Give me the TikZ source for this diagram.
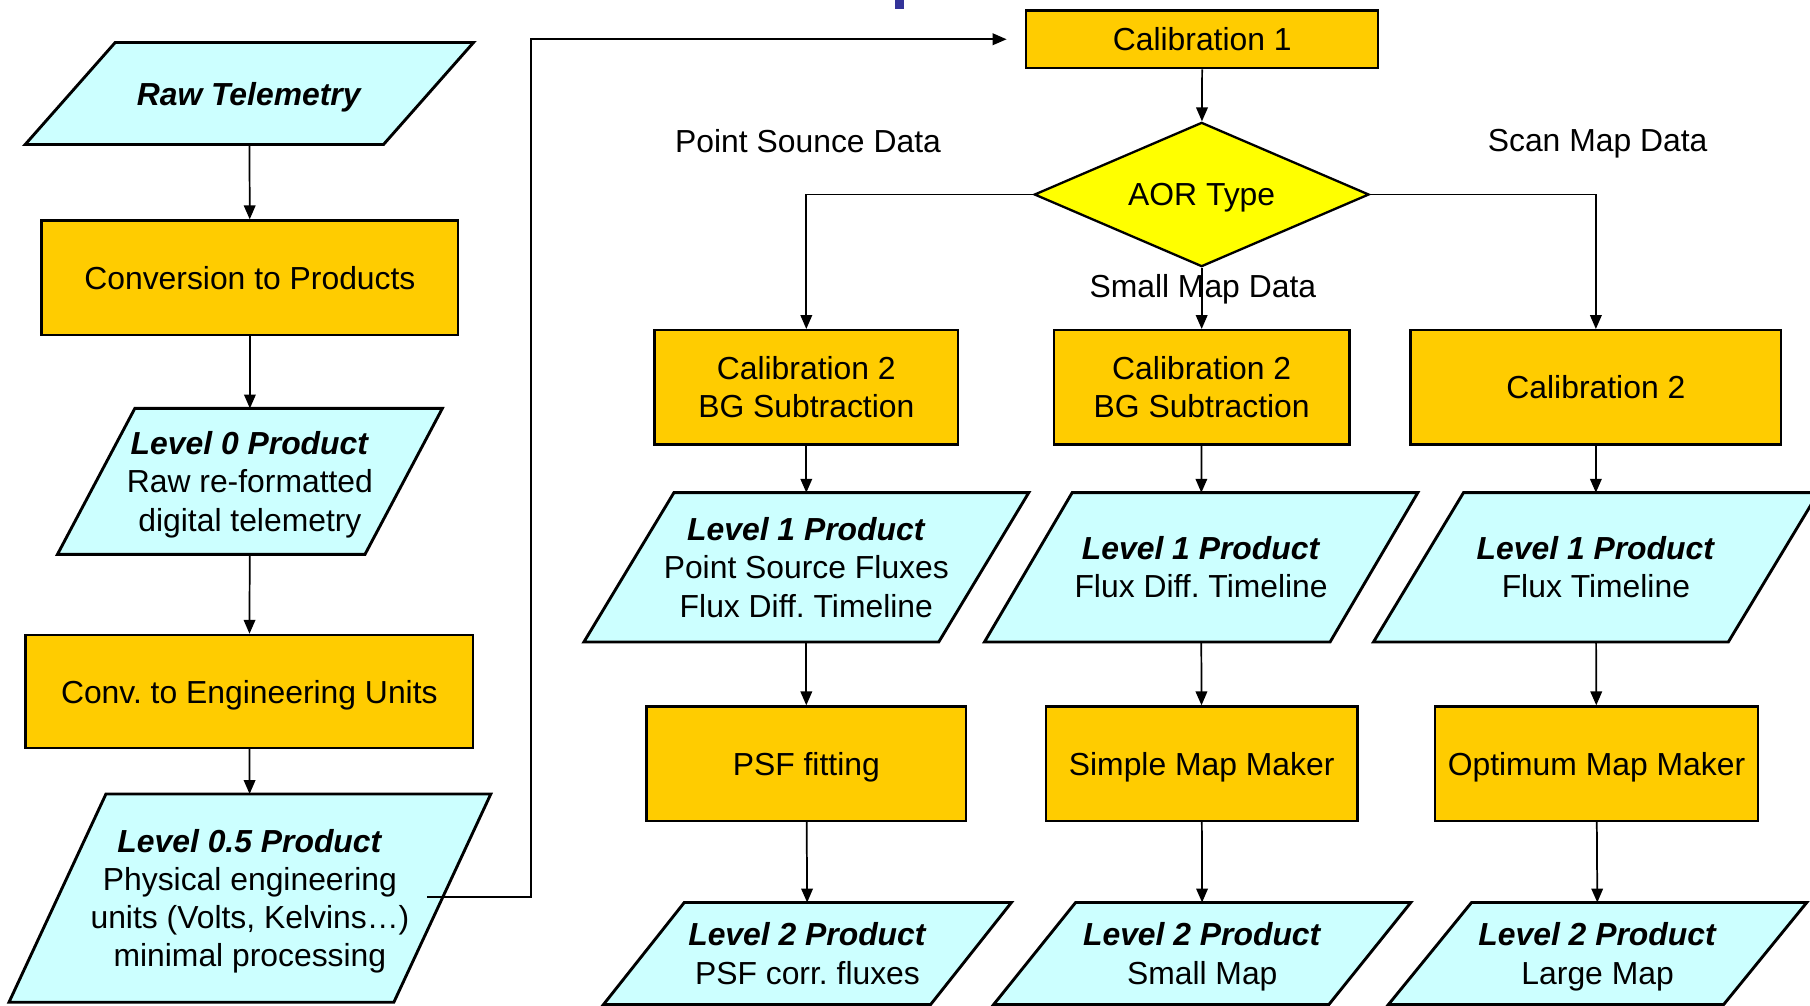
\documentclass[tikz,border=0pt]{standalone}
\usepackage{fontspec}
\setmainfont{Liberation Sans}
\usetikzlibrary{shapes.geometric,arrows.meta,backgrounds}
\definecolor{procorange}{HTML}{FFCC00}
\definecolor{datacyan}{HTML}{CCFFFF}
\definecolor{aoryellow}{HTML}{FFFF00}
\definecolor{titleblue}{HTML}{333399}

\begin{document}
\begin{tikzpicture}[x=1pt,y=-1pt]
  \tikzstyle{every node} = [font=\fontsize{27.6}{33}\selectfont\frenchspacing, text depth=0pt]
  \tikzstyle{block} = [rectangle, draw, fill=procorange, line width=2pt, inner sep=0pt, align=center, text depth=-4pt]
  \tikzstyle{product} = [rectangle, inner sep=0pt, align=center, text depth=-4pt]
  \tikzstyle{productshape} = [draw, fill=datacyan, line width=2.5pt]
  \tikzstyle{decision} = [diamond, aspect=2.32, draw, fill=aoryellow, line width=2pt, inner sep=0pt, minimum width=290pt, minimum height=125pt]
  \tikzstyle{arrow} = [-{Triangle[length=12pt, width=10pt]}, line width=1.5pt]

  \useasboundingbox (0,0) rectangle (1568,871);
  \fill[titleblue] (775,0) rectangle (783,8);

  % left column
  \node [product, minimum width=310pt, minimum height=88pt] (raw) at (216,81) {\textbf{\textit{Raw Telemetry}}};
  \node [block, minimum width=361pt, minimum height=99pt, text depth=0pt] (convprod) at (216.5,240.5) {Conversion to Products};
  \node [product, minimum width=266pt, minimum height=126pt] (lvl0) at (216.5,417) {\textbf{\textit{Level 0 Product}}\\Raw re-formatted\\digital telemetry};
  \node [block, minimum width=388pt, minimum height=98pt, text depth=0pt] (conveng) at (216,599) {Conv. to Engineering Units};
  \node [product, minimum width=333pt, minimum height=180pt] (lvl05) at (216.5,778) {\textbf{\textit{Level 0.5 Product}}\\Physical engineering\\units (Volts, Kelvins…)\\minimal processing};

  % calibration and branch
  \node [block, minimum width=305pt, minimum height=50pt, text depth=0pt] (cal1) at (1041.5,34) {Calibration 1};
  \node [decision] (aor) at (1041,168.5) {AOR Type};
  \node (psdata) at (700,122) {Point Sounce Data};
  \node (smdata) at (1042,248) {Small Map Data};
  \node (scdata) at (1384,122) {Scan Map Data};

  \node [block, minimum width=263pt, minimum height=99pt] (cal2a) at (698.5,335.5) {Calibration 2\\BG Subtraction};
  \node [block, minimum width=256pt, minimum height=99pt] (cal2b) at (1041,335.5) {Calibration 2\\BG Subtraction};
  \node [block, minimum width=321pt, minimum height=99pt] (cal2c) at (1382.5,335.5) {Calibration 2};

  \node [product, minimum width=307pt, minimum height=129pt] (lvl1a) at (698.5,491.5) {\textbf{\textit{Level 1 Product}}\\Point Source Fluxes\\Flux Diff. Timeline};
  \node [product, minimum width=299pt, minimum height=129pt] (lvl1b) at (1040.5,491.5) {\textbf{\textit{Level 1 Product}}\\Flux Diff. Timeline};
  \node [product, minimum width=307pt, minimum height=129pt] (lvl1c) at (1382.5,491.5) {\textbf{\textit{Level 1 Product}}\\Flux Timeline};

  \node [block, minimum width=277pt, minimum height=99pt] (psf) at (698.5,661.5) {PSF fitting};
  \node [block, minimum width=270pt, minimum height=99pt] (simple) at (1041,661.5) {Simple Map Maker};
  \node [block, minimum width=280pt, minimum height=99pt] (optimum) at (1383,661.5) {Optimum Map Maker};

  \node [product, minimum width=283pt, minimum height=88pt] (lvl2a) at (699.5,826) {\textbf{\textit{Level 2 Product}}\\PSF corr. fluxes};
  \node [product, minimum width=290pt, minimum height=88pt] (lvl2b) at (1041.5,826) {\textbf{\textit{Level 2 Product}}\\Small Map};
  \node [product, minimum width=290pt, minimum height=88pt] (lvl2c) at (1384,826) {\textbf{\textit{Level 2 Product}}\\Large Map};

  % slanted outlines of the data products
  \begin{scope}[on background layer]
    \foreach \n/\s in {raw/39, lvl0/33.5, lvl05/42, lvl1a/39, lvl1b/38, lvl1c/39, lvl2a/35, lvl2b/35.5, lvl2c/36}
      \draw[productshape] ([xshift=\s pt]\n.north west) -- ([xshift=\s pt]\n.north east) -- ([xshift=-\s pt]\n.south east) -- ([xshift=-\s pt]\n.south west) -- cycle;
  \end{scope}

  \coordinate (l05out) at (370,777);
  \coordinate (l05bend) at (460,777);

  \draw[arrow] (raw) to (convprod);
  \draw[arrow] (convprod) to (lvl0);
  \draw[arrow] (lvl0) to (conveng);
  \draw[arrow] (conveng) to (lvl05);
  \draw[arrow, shorten >=16pt] (l05out) -- (l05bend) |- (cal1.west);
  \draw[arrow] (cal1) to (aor);
  \draw[arrow] (aor.west) -| (cal2a.north);
  \draw[arrow] (aor.south) to (cal2b.north);
  \draw[arrow] (aor.east) -| (cal2c.north);
  \draw[arrow] (cal2a) to (lvl1a);
  \draw[arrow] (cal2b) to (lvl1b);
  \draw[arrow] (cal2c) to (lvl1c);
  \draw[arrow] (lvl1a) to (psf);
  \draw[arrow] (lvl1b) to (simple);
  \draw[arrow] (lvl1c) to (optimum);
  \draw[arrow] (psf) to (lvl2a);
  \draw[arrow] (simple) to (lvl2b);
  \draw[arrow] (optimum) to (lvl2c);
\end{tikzpicture}
\end{document}
